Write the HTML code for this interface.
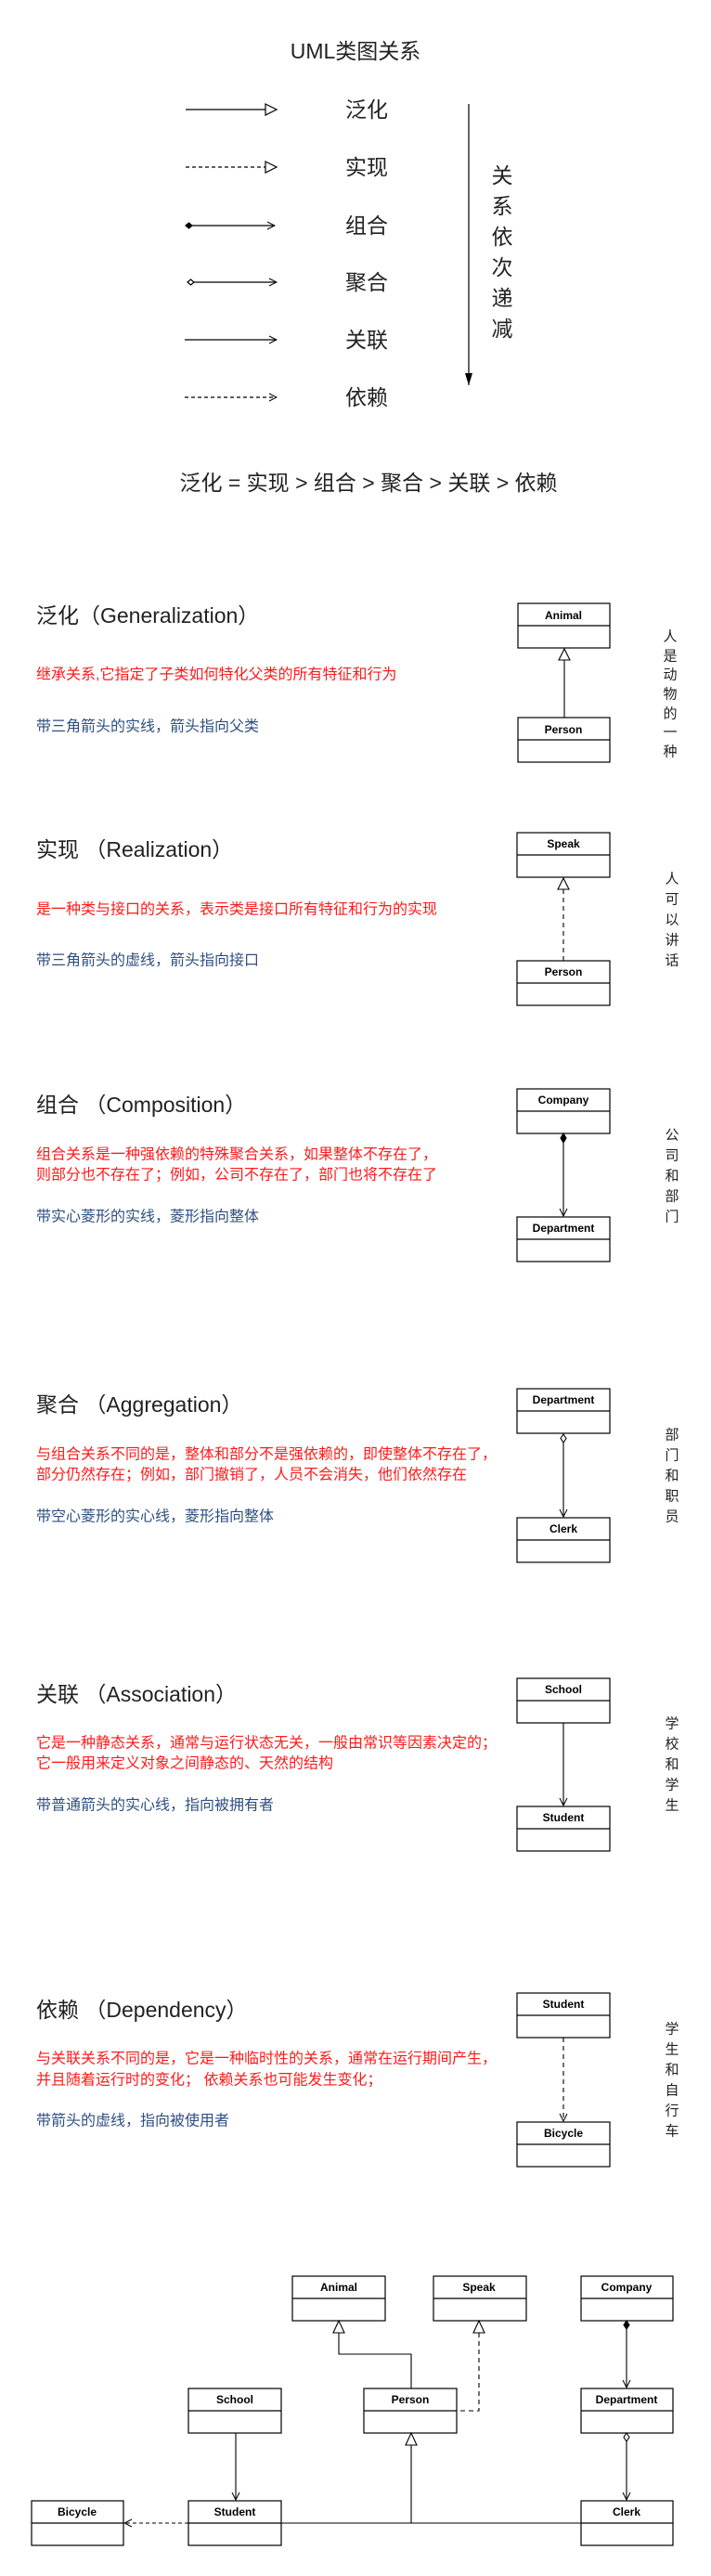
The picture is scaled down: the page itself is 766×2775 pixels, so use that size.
<!DOCTYPE html>
<html><head><meta charset="utf-8"><style>
html,body{margin:0;padding:0;background:#fff;}
svg{display:block;}
text{font-family:"Liberation Sans","Noto Sans CJK SC",sans-serif;}
.t{font-size:23px;fill:#222;}
.r{font-size:16px;fill:#ff1a1a;}
.b{font-size:16px;fill:#2f4f80;}
.v{font-size:15px;fill:#222;}
.bx{font-size:12px;font-weight:bold;fill:#000;}
</style></head><body>
<svg width="766" height="2775" viewBox="0 0 766 2775" xmlns="http://www.w3.org/2000/svg">
<defs>
<marker id="oa" markerWidth="10" markerHeight="10" refX="9" refY="5" orient="auto" markerUnits="userSpaceOnUse">
<path d="M1,1 L9,5 L1,9" fill="none" stroke="#000" stroke-width="1"/></marker>
<marker id="fa" markerWidth="10" markerHeight="14" refX="5" refY="13" orient="0" markerUnits="userSpaceOnUse">
<path d="M1,0 L5,13 L9,0 Z" fill="#000"/></marker>
</defs>

<text x="383" y="55" class="t" font-size="21" text-anchor="middle" dominant-baseline="central">UML类图关系</text>
<g stroke="#000" stroke-width="1.2" fill="none">
<line x1="200" y1="118" x2="286" y2="118"/><path d="M286,112 L298,118 L286,124 Z" fill="#fff"/>
<line x1="200" y1="180" x2="286" y2="180" stroke-dasharray="4,3"/><path d="M286,174 L298,180 L286,186 Z" fill="#fff"/>
<line x1="207" y1="243" x2="296" y2="243" marker-end="url(#oa)"/><path d="M200,243 L203.5,240 L207,243 L203.5,246 Z" fill="#000"/>
<line x1="209" y1="304" x2="298" y2="304" marker-end="url(#oa)"/><path d="M202,304 L205.5,301 L209,304 L205.5,307 Z" fill="#fff"/>
<line x1="199" y1="366" x2="298" y2="366" marker-end="url(#oa)"/>
<line x1="199" y1="428" x2="298" y2="428" stroke-dasharray="4,3" marker-end="url(#oa)"/>
<line x1="505" y1="112" x2="505" y2="415" marker-end="url(#fa)"/>
</g>
<g class="t" font-size="23">
<text x="372" y="118" dominant-baseline="central">泛化</text>
<text x="372" y="180" dominant-baseline="central">实现</text>
<text x="372" y="243" dominant-baseline="central">组合</text>
<text x="372" y="304" dominant-baseline="central">聚合</text>
<text x="372" y="366" dominant-baseline="central">关联</text>
<text x="372" y="428" dominant-baseline="central">依赖</text>
</g>
<g class="t" font-size="22" text-anchor="middle">
<text x="541" y="189" dominant-baseline="central">关</text>
<text x="541" y="222" dominant-baseline="central">系</text>
<text x="541" y="255" dominant-baseline="central">依</text>
<text x="541" y="288" dominant-baseline="central">次</text>
<text x="541" y="321" dominant-baseline="central">递</text>
<text x="541" y="354" dominant-baseline="central">减</text>
</g>
<text x="397" y="520" class="t" font-size="25.5" text-anchor="middle" dominant-baseline="central">泛化 = 实现 &gt; 组合 &gt; 聚合 &gt; 关联 &gt; 依赖</text>

<text x="39" y="663" class="t" dominant-baseline="central">泛化（Generalization）</text>
<text x="39" y="727" class="r" dominant-baseline="central">继承关系,它指定了子类如何特化父类的所有特征和行为</text>
<text x="39" y="783" class="b" dominant-baseline="central">带三角箭头的实线，箭头指向父类</text>

<text x="39" y="915" class="t" dominant-baseline="central">实现 （Realization）</text>
<text x="39" y="980" class="r" dominant-baseline="central">是一种类与接口的关系，表示类是接口所有特征和行为的实现</text>
<text x="39" y="1035" class="b" dominant-baseline="central">带三角箭头的虚线，箭头指向接口</text>

<text x="39" y="1190" class="t" dominant-baseline="central">组合 （Composition）</text>
<text x="39" y="1244" class="r" dominant-baseline="central">组合关系是一种强依赖的特殊聚合关系，如果整体不存在了，</text>
<text x="39" y="1266" class="r" dominant-baseline="central">则部分也不存在了；例如，公司不存在了，部门也将不存在了</text>
<text x="39" y="1311" class="b" dominant-baseline="central">带实心菱形的实线，菱形指向整体</text>

<text x="39" y="1513" class="t" dominant-baseline="central">聚合 （Aggregation）</text>
<text x="39" y="1567" class="r" dominant-baseline="central">与组合关系不同的是，整体和部分不是强依赖的，即使整体不存在了，</text>
<text x="39" y="1589" class="r" dominant-baseline="central">部分仍然存在；例如，部门撤销了，人员不会消失，他们依然存在</text>
<text x="39" y="1634" class="b" dominant-baseline="central">带空心菱形的实心线，菱形指向整体</text>

<text x="39" y="1825" class="t" dominant-baseline="central">关联 （Association）</text>
<text x="39" y="1878" class="r" dominant-baseline="central">它是一种静态关系，通常与运行状态无关，一般由常识等因素决定的；</text>
<text x="39" y="1900" class="r" dominant-baseline="central">它一般用来定义对象之间静态的、天然的结构</text>
<text x="39" y="1945" class="b" dominant-baseline="central">带普通箭头的实心线，指向被拥有者</text>

<text x="39" y="2165" class="t" dominant-baseline="central">依赖 （Dependency）</text>
<text x="39" y="2218" class="r" dominant-baseline="central">与关联关系不同的是，它是一种临时性的关系，通常在运行期间产生，</text>
<text x="39" y="2241" class="r" dominant-baseline="central">并且随着运行时的变化； 依赖关系也可能发生变化；</text>
<text x="39" y="2285" class="b" dominant-baseline="central">带箭头的虚线，指向被使用者</text>

<g class="v" text-anchor="middle">
<text x="722" y="686" dominant-baseline="central">人</text><text x="722" y="707" dominant-baseline="central">是</text><text x="722" y="727" dominant-baseline="central">动</text><text x="722" y="748" dominant-baseline="central">物</text><text x="722" y="769" dominant-baseline="central">的</text><text x="722" y="789" dominant-baseline="central">一</text><text x="722" y="810" dominant-baseline="central">种</text>
<text x="724" y="947" dominant-baseline="central">人</text><text x="724" y="969" dominant-baseline="central">可</text><text x="724" y="991" dominant-baseline="central">以</text><text x="724" y="1013" dominant-baseline="central">讲</text><text x="724" y="1035" dominant-baseline="central">话</text>
<text x="724" y="1223" dominant-baseline="central">公</text><text x="724" y="1245" dominant-baseline="central">司</text><text x="724" y="1267" dominant-baseline="central">和</text><text x="724" y="1289" dominant-baseline="central">部</text><text x="724" y="1311" dominant-baseline="central">门</text>
<text x="724" y="1546" dominant-baseline="central">部</text><text x="724" y="1568" dominant-baseline="central">门</text><text x="724" y="1590" dominant-baseline="central">和</text><text x="724" y="1612" dominant-baseline="central">职</text><text x="724" y="1634" dominant-baseline="central">员</text>
<text x="724" y="1857" dominant-baseline="central">学</text><text x="724" y="1879" dominant-baseline="central">校</text><text x="724" y="1901" dominant-baseline="central">和</text><text x="724" y="1923" dominant-baseline="central">学</text><text x="724" y="1945" dominant-baseline="central">生</text>
<text x="724" y="2186" dominant-baseline="central">学</text><text x="724" y="2208" dominant-baseline="central">生</text><text x="724" y="2230" dominant-baseline="central">和</text><text x="724" y="2252" dominant-baseline="central">自</text><text x="724" y="2274" dominant-baseline="central">行</text><text x="724" y="2296" dominant-baseline="central">车</text>
</g>

<g stroke="#000" stroke-width="1.2" fill="#fff">
<rect x="558" y="650" width="99" height="48"/><line x1="558" y1="674" x2="657" y2="674"/>
<rect x="558" y="773" width="99" height="48"/><line x1="558" y1="797" x2="657" y2="797"/>
<rect x="557" y="897" width="100" height="48"/><line x1="557" y1="921" x2="657" y2="921"/>
<rect x="557" y="1035" width="100" height="48"/><line x1="557" y1="1059" x2="657" y2="1059"/>
<rect x="557" y="1173" width="100" height="48"/><line x1="557" y1="1197" x2="657" y2="1197"/>
<rect x="557" y="1311" width="100" height="48"/><line x1="557" y1="1335" x2="657" y2="1335"/>
<rect x="557" y="1496" width="100" height="48"/><line x1="557" y1="1520" x2="657" y2="1520"/>
<rect x="557" y="1635" width="100" height="48"/><line x1="557" y1="1659" x2="657" y2="1659"/>
<rect x="557" y="1808" width="100" height="48"/><line x1="557" y1="1832" x2="657" y2="1832"/>
<rect x="557" y="1946" width="100" height="48"/><line x1="557" y1="1970" x2="657" y2="1970"/>
<rect x="557" y="2147" width="100" height="48"/><line x1="557" y1="2171" x2="657" y2="2171"/>
<rect x="557" y="2286" width="100" height="48"/><line x1="557" y1="2310" x2="657" y2="2310"/>
<rect x="315" y="2452" width="100" height="48"/><line x1="315" y1="2476" x2="415" y2="2476"/>
<rect x="467" y="2452" width="100" height="48"/><line x1="467" y1="2476" x2="567" y2="2476"/>
<rect x="626" y="2452" width="99" height="48"/><line x1="626" y1="2476" x2="725" y2="2476"/>
<rect x="203" y="2573" width="100" height="48"/><line x1="203" y1="2597" x2="303" y2="2597"/>
<rect x="392" y="2573" width="100" height="48"/><line x1="392" y1="2597" x2="492" y2="2597"/>
<rect x="626" y="2573" width="99" height="48"/><line x1="626" y1="2597" x2="725" y2="2597"/>
<rect x="34" y="2694" width="99" height="48"/><line x1="34" y1="2718" x2="133" y2="2718"/>
<rect x="203" y="2694" width="100" height="48"/><line x1="203" y1="2718" x2="303" y2="2718"/>
<rect x="626" y="2694" width="99" height="48"/><line x1="626" y1="2718" x2="725" y2="2718"/>
</g>
<g class="bx" text-anchor="middle">
<text x="607" y="663" dominant-baseline="central">Animal</text>
<text x="607" y="786" dominant-baseline="central">Person</text>
<text x="607" y="909" dominant-baseline="central">Speak</text>
<text x="607" y="1047" dominant-baseline="central">Person</text>
<text x="607" y="1185" dominant-baseline="central">Company</text>
<text x="607" y="1323" dominant-baseline="central">Department</text>
<text x="607" y="1508" dominant-baseline="central">Department</text>
<text x="607" y="1647" dominant-baseline="central">Clerk</text>
<text x="607" y="1820" dominant-baseline="central">School</text>
<text x="607" y="1958" dominant-baseline="central">Student</text>
<text x="607" y="2159" dominant-baseline="central">Student</text>
<text x="607" y="2298" dominant-baseline="central">Bicycle</text>
<text x="365" y="2464" dominant-baseline="central">Animal</text>
<text x="516" y="2464" dominant-baseline="central">Speak</text>
<text x="675" y="2464" dominant-baseline="central">Company</text>
<text x="253" y="2585" dominant-baseline="central">School</text>
<text x="442" y="2585" dominant-baseline="central">Person</text>
<text x="675" y="2585" dominant-baseline="central">Department</text>
<text x="83" y="2706" dominant-baseline="central">Bicycle</text>
<text x="253" y="2706" dominant-baseline="central">Student</text>
<text x="675" y="2706" dominant-baseline="central">Clerk</text>
</g>

<g stroke="#000" stroke-width="1.1" fill="none">
<path d="M608,699 L602,711 L614,711 Z" fill="#fff"/><line x1="608" y1="711" x2="608" y2="773"/>
<path d="M607,946 L601,958 L613,958 Z" fill="#fff"/><line x1="607" y1="958" x2="607" y2="1035" stroke-dasharray="5,4"/>
<path d="M607,1221 L610,1226 L607,1231 L604,1226 Z" fill="#000"/><line x1="607" y1="1231" x2="607" y2="1310" marker-end="url(#oa)"/>
<path d="M607,1545 L610,1549.5 L607,1554 L604,1549.5 Z" fill="#fff"/><line x1="607" y1="1554" x2="607" y2="1634" marker-end="url(#oa)"/>
<line x1="607" y1="1856" x2="607" y2="1945" marker-end="url(#oa)"/>
<line x1="607" y1="2195" x2="607" y2="2285" stroke-dasharray="5,4" marker-end="url(#oa)"/>

<path d="M365,2500 L359,2513 L371,2513 Z" fill="#fff"/>
<path d="M365,2513 L365,2536 L443,2536 L443,2573"/>
<path d="M516,2500 L510,2513 L522,2513 Z" fill="#fff"/>
<path d="M516,2513 L516,2597 L492,2597" stroke-dasharray="5,4"/>
<path d="M675,2500 L678,2504.5 L675,2509 L672,2504.5 Z" fill="#000"/>
<line x1="675" y1="2509" x2="675" y2="2572" marker-end="url(#oa)"/>
<path d="M675,2621 L678,2625.5 L675,2630 L672,2625.5 Z" fill="#fff"/>
<line x1="675" y1="2630" x2="675" y2="2693" marker-end="url(#oa)"/>
<line x1="254" y1="2621" x2="254" y2="2693" marker-end="url(#oa)"/>
<path d="M443,2621 L437,2634 L449,2634 Z" fill="#fff"/>
<line x1="443" y1="2634" x2="443" y2="2718"/>
<line x1="303" y1="2718" x2="626" y2="2718"/>
<line x1="203" y1="2718" x2="134" y2="2718" stroke-dasharray="4,3" marker-end="url(#oa)"/>
</g>
</svg>
</body></html>
